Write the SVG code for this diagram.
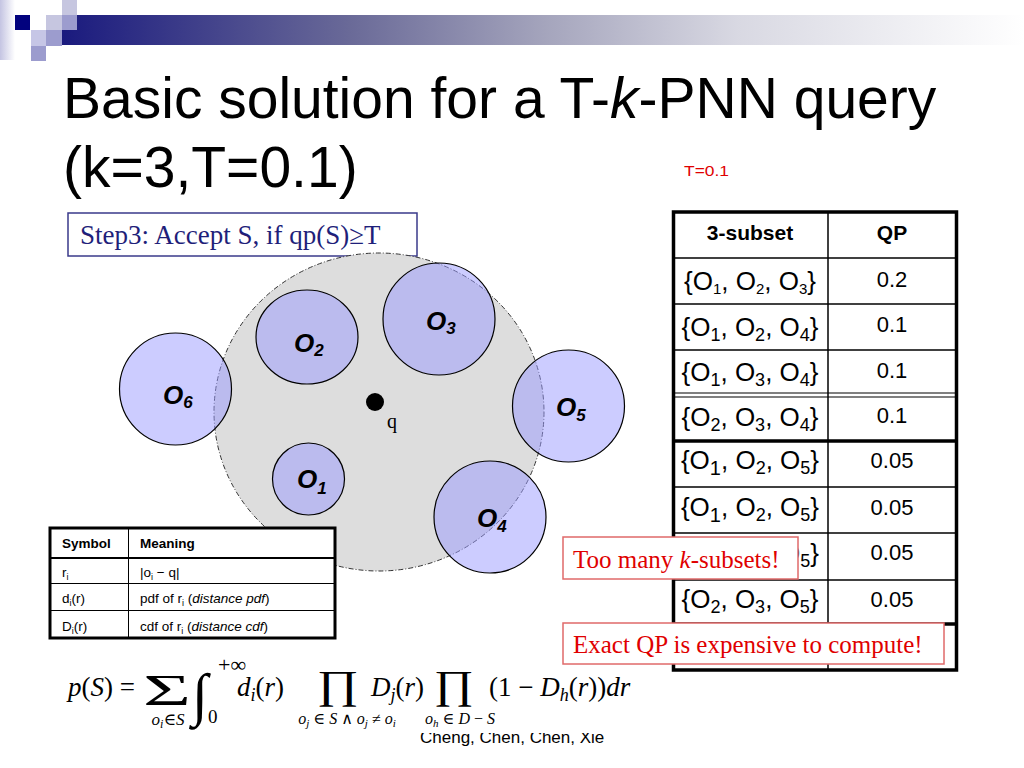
<svg xmlns="http://www.w3.org/2000/svg" width="1024" height="768" viewBox="0 0 1024 768">
<defs>
<linearGradient id="bar" x1="0" y1="0" x2="1" y2="0">
<stop offset="0" stop-color="#1a1a7e"/>
<stop offset="0.3" stop-color="#6a6a98"/>
<stop offset="0.5" stop-color="#a4a4bc"/>
<stop offset="0.7" stop-color="#d8d8e2"/>
<stop offset="1" stop-color="#ffffff"/>
</linearGradient>
<linearGradient id="strip" x1="0" y1="0" x2="1" y2="0">
<stop offset="0" stop-color="#c4c4e2"/>
<stop offset="1" stop-color="#ffffff"/>
</linearGradient>
<clipPath id="chengClip"><rect x="380" y="733" width="260" height="30"/></clipPath>
<style>
.sans{font-family:"Liberation Sans",Arial,sans-serif;}
.serif{font-family:"Liberation Serif","Times New Roman",serif;}
.olab{font-family:"Liberation Sans",Arial,sans-serif;font-weight:bold;font-style:italic;font-size:26px;fill:#000;}
.obj{fill:#9999ff;fill-opacity:0.5;stroke:#000;stroke-width:1.2;}
.cell{font-family:"Liberation Sans",Arial,sans-serif;font-size:26px;fill:#000;text-anchor:middle;}
.qp{font-family:"Liberation Sans",Arial,sans-serif;font-size:22px;fill:#000;text-anchor:middle;}
.thin{stroke:#000;stroke-width:1.5;}
.thick{stroke:#000;stroke-width:3.5;}
.sym{font-family:"Liberation Sans",Arial,sans-serif;font-size:13.5px;fill:#000;}
.red{font-family:"Liberation Serif","Times New Roman",serif;font-size:25px;fill:#e00000;}
.redbox{fill:#ffffff;stroke:#e06a6a;stroke-width:1.5;}
.math{font-family:"Liberation Serif","Times New Roman","DejaVu Serif",serif;fill:#000;}
</style>
</defs>
<rect x="0" y="0" width="1024" height="768" fill="#ffffff"/>

<g id="header-decoration">
<rect x="0" y="0" width="15" height="60" fill="url(#strip)"/>
<rect x="62" y="15" width="962" height="30" fill="url(#bar)"/>
<rect x="15" y="15" width="15" height="15" fill="#02027e"/>
<rect x="46" y="15" width="16" height="15" fill="#c6c6e0"/>
<rect x="62" y="0" width="15" height="15" fill="#c6c6e0"/>
<rect x="62" y="15" width="15" height="15" fill="#9c9cce"/>
<rect x="31" y="30" width="15" height="16" fill="#c6c6e6"/>
<rect x="46" y="30" width="16" height="16" fill="#9c9cce"/>
<rect x="31" y="46" width="15" height="15" fill="#9c9cce"/>
</g>

<g id="title">
<text class="sans" x="63" y="118" font-size="57">Basic solution for a T-<tspan font-style="italic">k</tspan>-PNN query</text>
<text class="sans" x="63" y="187" font-size="57">(k=3,T=0.1)</text>
<text class="sans" x="684" y="176" font-size="15" fill="#e00000" textLength="45" lengthAdjust="spacingAndGlyphs">T=0.1</text>
</g>

<g id="step3">
<rect x="68" y="213" width="349" height="43" fill="#ffffff" stroke="#3a3a8a" stroke-width="1.5"/>
<text class="serif" x="80" y="244" font-size="27" fill="#1f1f7a">Step3: Accept S, if qp(S)≥T</text>
</g>

<g id="search-region">
<ellipse cx="379" cy="412" rx="165" ry="159" fill="#dddddd"/>
<ellipse cx="379" cy="412" rx="165" ry="159" fill="none" stroke="#333" stroke-width="1" stroke-dasharray="5 2 1 2"/>
</g>

<g id="O6"><circle class="obj" cx="175.5" cy="389" r="56"/><text class="olab" x="163" y="404">O<tspan font-size="17" dy="4">6</tspan></text></g>
<g id="O2"><ellipse class="obj" cx="307" cy="337" rx="51" ry="47"/><text class="olab" x="294" y="352">O<tspan font-size="17" dy="4">2</tspan></text></g>
<g id="O3"><circle class="obj" cx="439" cy="319" r="56"/><text class="olab" x="426" y="330">O<tspan font-size="17" dy="4">3</tspan></text></g>
<g id="O5"><circle class="obj" cx="568.5" cy="406" r="56"/><text class="olab" x="556" y="416">O<tspan font-size="17" dy="5">5</tspan></text></g>
<g id="O1"><circle class="obj" cx="308.5" cy="479" r="36"/><text class="olab" x="297" y="488">O<tspan font-size="17" dy="6">1</tspan></text></g>
<g id="O4"><circle class="obj" cx="490" cy="517" r="56"/><text class="olab" x="477" y="527">O<tspan font-size="17" dy="5">4</tspan></text></g>

<g id="query">
<circle cx="375" cy="402" r="9" fill="#000"/>
<text class="serif" x="387" y="428" font-size="20">q</text>
</g>

<g id="connectors"></g>

<g id="subset-table">
<rect x="673.5" y="212" width="283" height="458" fill="#ffffff"/>
<line class="thin" x1="828" y1="212" x2="828" y2="670"/>
<line class="thin" x1="673" y1="258" x2="957" y2="258"/>
<line class="thin" x1="673" y1="304" x2="957" y2="304"/>
<line class="thin" x1="673" y1="350" x2="957" y2="350"/>
<line stroke="#000" stroke-width="1.2" x1="673" y1="393" x2="957" y2="393"/>
<line stroke="#000" stroke-width="1.2" x1="673" y1="397" x2="957" y2="397"/>
<line class="thick" x1="673" y1="441" x2="957" y2="441"/>
<line class="thin" x1="673" y1="487" x2="957" y2="487"/>
<line class="thin" x1="673" y1="533" x2="957" y2="533"/>
<line class="thin" x1="673" y1="580" x2="957" y2="580"/>
<line class="thick" x1="673" y1="624" x2="957" y2="624"/>
<rect class="thick" x="673.5" y="212" width="283" height="458" fill="none"/>
<text class="sans" x="750" y="240" font-size="21" font-weight="bold" text-anchor="middle">3-subset</text>
<text class="sans" x="892" y="240" font-size="21" font-weight="bold" text-anchor="middle">QP</text>
<text class="cell" x="750" y="290" font-size="22">{O<tspan font-size="15" dy="4">1</tspan><tspan dy="-4">, O</tspan><tspan font-size="15" dy="4">2</tspan><tspan dy="-4">, O</tspan><tspan font-size="15" dy="4">3</tspan><tspan dy="-4">}</tspan></text>
<text class="qp" x="892" y="287">0.2</text>
<text class="cell" x="750" y="336">{O<tspan font-size="18" dy="5">1</tspan><tspan dy="-5">, O</tspan><tspan font-size="18" dy="5">2</tspan><tspan dy="-5">, O</tspan><tspan font-size="18" dy="5">4</tspan><tspan dy="-5">}</tspan></text>
<text class="qp" x="892" y="332">0.1</text>
<text class="cell" x="750" y="381">{O<tspan font-size="18" dy="5">1</tspan><tspan dy="-5">, O</tspan><tspan font-size="18" dy="5">3</tspan><tspan dy="-5">, O</tspan><tspan font-size="18" dy="5">4</tspan><tspan dy="-5">}</tspan></text>
<text class="qp" x="892" y="378">0.1</text>
<text class="cell" x="750" y="426">{O<tspan font-size="18" dy="5">2</tspan><tspan dy="-5">, O</tspan><tspan font-size="18" dy="5">3</tspan><tspan dy="-5">, O</tspan><tspan font-size="18" dy="5">4</tspan><tspan dy="-5">}</tspan></text>
<text class="qp" x="892" y="423">0.1</text>
<text class="cell" x="750" y="469">{O<tspan font-size="20" dy="6">1</tspan><tspan dy="-6">, O</tspan><tspan font-size="18" dy="5">2</tspan><tspan dy="-5">, O</tspan><tspan font-size="18" dy="5">5</tspan><tspan dy="-5">}</tspan></text>
<text class="qp" x="892" y="468">0.05</text>
<text class="cell" x="750" y="516">{O<tspan font-size="20" dy="6">1</tspan><tspan dy="-6">, O</tspan><tspan font-size="18" dy="5">2</tspan><tspan dy="-5">, O</tspan><tspan font-size="18" dy="5">5</tspan><tspan dy="-5">}</tspan></text>
<text class="qp" x="892" y="515">0.05</text>
<text class="cell" x="750" y="562">{O<tspan font-size="20" dy="6">1</tspan><tspan dy="-6">, O</tspan><tspan font-size="18" dy="5">2</tspan><tspan dy="-5">, O</tspan><tspan font-size="18" dy="5">5</tspan><tspan dy="-5">}</tspan></text>
<text class="qp" x="892" y="560">0.05</text>
<text class="cell" x="750" y="608">{O<tspan font-size="18" dy="5">2</tspan><tspan dy="-5">, O</tspan><tspan font-size="18" dy="5">3</tspan><tspan dy="-5">, O</tspan><tspan font-size="18" dy="5">5</tspan><tspan dy="-5">}</tspan></text>
<text class="qp" x="892" y="607">0.05</text>
</g>

<g id="symbol-table">
<rect x="50" y="528" width="285" height="110" fill="#ffffff"/>
<line stroke="#000" stroke-width="2" x1="50" y1="558" x2="335" y2="558"/>
<line stroke="#000" stroke-width="1" x1="50" y1="583.5" x2="335" y2="583.5"/>
<line stroke="#000" stroke-width="1" x1="50" y1="610.5" x2="335" y2="610.5"/>
<line stroke="#000" stroke-width="1" x1="128.5" y1="528" x2="128.5" y2="638"/>
<rect x="50" y="528" width="285" height="110" fill="none" stroke="#000" stroke-width="3"/>
<text class="sym" x="62" y="548" font-weight="bold" font-size="14">Symbol</text>
<text class="sym" x="140" y="548" font-weight="bold" font-size="14">Meaning</text>
<text class="sym" x="62" y="577">r<tspan font-size="9" dy="3">i</tspan></text>
<text class="sym" x="140" y="577">|o<tspan font-size="9" dy="3">i</tspan><tspan dy="-3"> − q|</tspan></text>
<text class="sym" x="62" y="603">d<tspan font-size="9" dy="3">i</tspan><tspan dy="-3">(r)</tspan></text>
<text class="sym" x="140" y="603">pdf of r<tspan font-size="9" dy="3">i</tspan><tspan dy="-3"> (</tspan><tspan font-style="italic">distance pdf</tspan>)</text>
<text class="sym" x="62" y="631">D<tspan font-size="9" dy="3">i</tspan><tspan dy="-3">(r)</tspan></text>
<text class="sym" x="140" y="631">cdf of r<tspan font-size="9" dy="3">i</tspan><tspan dy="-3"> (</tspan><tspan font-style="italic">distance cdf</tspan>)</text>
</g>

<g id="too-many">
<rect class="redbox" x="563" y="537" width="235" height="42"/>
<text class="red" x="573" y="568">Too many <tspan font-style="italic">k</tspan>-subsets!</text>
</g>

<g id="expensive">
<rect class="redbox" x="563" y="623" width="381" height="41"/>
<text class="red" x="573" y="653" font-size="25.5">Exact QP is expensive to compute!</text>
</g>

<g id="footer">
<text class="sans" x="420" y="743" font-size="17" clip-path="url(#chengClip)">Cheng, Chen, Chen, Xie</text>
</g>

<g id="formula">
<text class="math" x="68" y="696" font-size="27"><tspan font-style="italic">p</tspan>(<tspan font-style="italic">S</tspan>) =</text>
<text class="math" x="143" y="705" font-size="44" textLength="48" lengthAdjust="spacingAndGlyphs">Σ</text>
<text class="math" x="168" y="725" font-size="17" font-style="italic" text-anchor="middle">o<tspan font-size="12" dy="3">i</tspan><tspan dy="-3" font-style="normal">∈</tspan>S</text>
<text class="math" x="192" y="714" font-size="58">∫</text>
<text class="math" x="218" y="672" font-size="22">+∞</text>
<text class="math" x="208" y="723" font-size="19">0</text>
<text class="math" x="237" y="696" font-size="27"><tspan font-style="italic">d</tspan><tspan font-size="18" font-style="italic" dy="5">i</tspan><tspan dy="-5">(</tspan><tspan font-style="italic">r</tspan>)</text>
<text class="math" x="317" y="698" font-size="40" textLength="42" lengthAdjust="spacingAndGlyphs">∏</text>
<text class="math" x="347" y="724" font-size="16" font-style="italic" text-anchor="middle">o<tspan font-size="11" dy="3">j</tspan><tspan dy="-3" font-style="normal"> ∈ </tspan>S<tspan font-style="normal"> ∧ </tspan>o<tspan font-size="11" dy="3">j</tspan><tspan dy="-3" font-style="normal"> ≠ </tspan>o<tspan font-size="11" dy="3">i</tspan></text>
<text class="math" x="371" y="696" font-size="27"><tspan font-style="italic">D</tspan><tspan font-size="18" font-style="italic" dy="5">j</tspan><tspan dy="-5">(</tspan><tspan font-style="italic">r</tspan>)</text>
<text class="math" x="434" y="698" font-size="40" textLength="40" lengthAdjust="spacingAndGlyphs">∏</text>
<text class="math" x="460" y="724" font-size="16" font-style="italic" text-anchor="middle">o<tspan font-size="11" dy="3">h</tspan><tspan dy="-3" font-style="normal"> ∈ </tspan>D<tspan font-style="normal"> − </tspan>S</text>
<text class="math" x="489" y="696" font-size="27">(1 − <tspan font-style="italic">D</tspan><tspan font-size="18" font-style="italic" dy="5">h</tspan><tspan dy="-5">(</tspan><tspan font-style="italic">r</tspan>))<tspan font-style="italic">dr</tspan></text>
</g>
</svg>
